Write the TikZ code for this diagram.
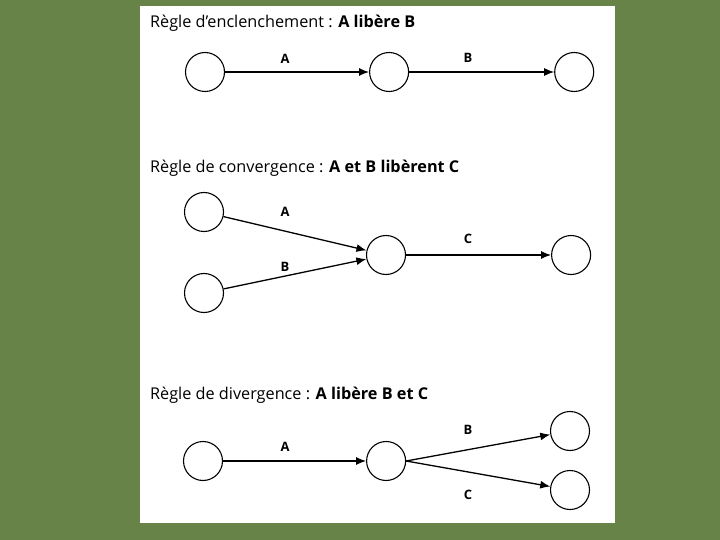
\documentclass[tikz,border=0pt]{standalone}
\usepackage{fontspec}
\setmainfont{Open Sans}
\usetikzlibrary{positioning,calc,arrows.meta}
\definecolor{slidegreen}{RGB}{104,131,72}

\begin{document}
\begin{tikzpicture}[x=1bp,y=-1bp,
  etat/.style={draw,circle,minimum size=39bp,inner sep=0pt,line width=1.1bp},
  fleche/.style={-{Latex[length=10bp,width=8bp]},line width=1.3bp},
  lbl/.style={font=\bfseries\fontsize{13}{15}\selectfont},
  titre/.style={anchor=base west,inner sep=0pt,font=\fontsize{16.3}{18}\selectfont}]

  \useasboundingbox (0,0) rectangle (720,540);
  \fill[slidegreen] (0,0) rectangle (720,540);
  \fill[white] (140,6) rectangle (615,523);

  % enclenchement
  \node[titre] (t1) at (150,28) {Règle d’enclenchement : \textbf{A libère B}};
  \node[etat] (e1) at (205,72) {};
  \node[etat,right=144bp of e1] (e2) {};
  \node[etat,right=145bp of e2] (e3) {};
  \draw[fleche] (e1) -- (e2);
  \draw[fleche] (e2) -- (e3);
  \node[lbl] (e1a) at (285,59) {A};
  \node[lbl] (e2b) at (468,58) {B};

  % convergence
  \node[titre] (t2) at (150,173) {Règle de convergence : \textbf{A et B libèrent C}};
  \node[etat] (c1) at (204,212) {};
  \node[etat] (c2) at (204,293) {};
  \node[etat] (c3) at (386,255) {};
  \node[etat,right=145bp of c3] (c4) {};
  \draw[fleche] (c1) -- (c3);
  \draw[fleche] (c2) -- (c3);
  \draw[fleche] (c3) -- (c4);
  \node[lbl] (c1a) at (285,212) {A};
  \node[lbl] (c2b) at (285,267) {B};
  \node[lbl] (c3c) at (468,239) {C};

  % divergence
  \node[titre] (t3) at (150,399) {Règle de divergence : \textbf{A libère B et C}};
  \node[etat] (d1) at (203,461) {};
  \node[etat,right=143bp of d1] (d2) {};
  \node[etat] (d3) at (570,431) {};
  \node[etat] (d4) at (570,490) {};
  \draw[fleche] (d1) -- (d2);
  \draw[fleche] (d2.east) -- (d3);
  \draw[fleche] (d2.east) -- (d4);
  \node[lbl] (d1a) at (285,447) {A};
  \node[lbl] (d3b) at (468,430) {B};
  \node[lbl] (d4c) at (468,495) {C};

\end{tikzpicture}
\end{document}
